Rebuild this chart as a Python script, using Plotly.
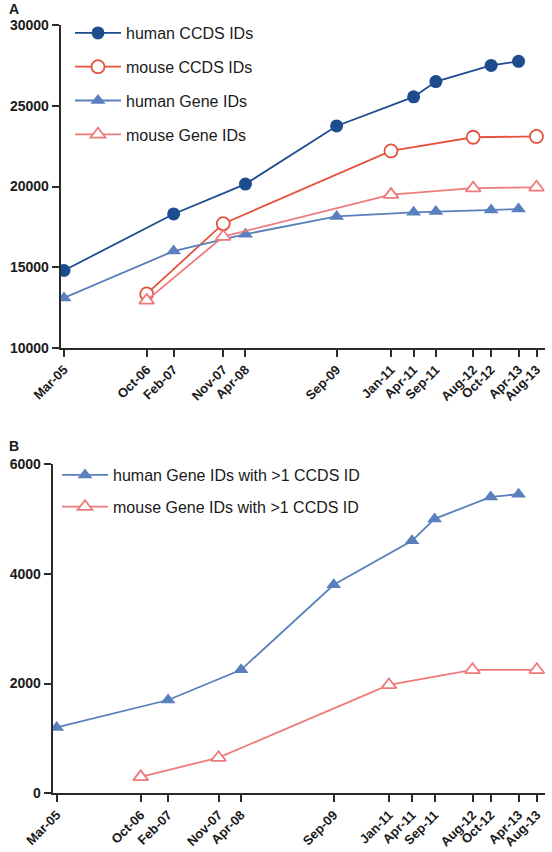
import plotly.graph_objects as go

W, H = 552, 852

# x tick labels and their positions on the (non-linear) time axis
tick_labels = ["Mar-05", "Oct-06", "Feb-07", "Nov-07", "Apr-08", "Sep-09", "Jan-11",
               "Apr-11", "Sep-11", "Aug-12", "Oct-12", "Apr-13", "Aug-13"]
tick_pos = [0, 17.5, 23.2, 33.7, 38.4, 57.7, 69.2, 74.0, 78.7, 86.6, 90.4, 96.2, 100]
pos = dict(zip(tick_labels, tick_pos))

# Panel A
human_dates = ["Mar-05", "Feb-07", "Apr-08", "Sep-09", "Apr-11", "Sep-11", "Oct-12", "Apr-13"]
mouse_dates = ["Oct-06", "Nov-07", "Jan-11", "Aug-12", "Aug-13"]
human_ccds = [14800, 18300, 20150, 23750, 25550, 26500, 27500, 27750]
mouse_ccds = [13350, 17700, 22200, 23050, 23100]
human_gene = [13100, 16000, 17050, 18150, 18400, 18450, 18550, 18600]
mouse_gene = [12950, 16900, 19500, 19900, 19950]

# Panel B
human_multi = [1200, 1700, 2250, 3800, 4600, 5000, 5400, 5450]
mouse_multi = [300, 650, 1975, 2250, 2250]

C_HCCDS = "#1d4c8f"
C_MCCDS = "#e5533d"
C_HGENE = "#5a7fbd"
C_MGENE = "#ee7b7b"

hx = [pos[d] for d in human_dates]
mx = [pos[d] for d in mouse_dates]

fig = go.Figure()

def add(x, y, name, color, symbol, filled, size, xa, ya, legend, group):
    fig.add_trace(go.Scatter(
        x=x, y=y, name=name, mode="lines+markers",
        line=dict(color=color, width=1.8),
        marker=dict(symbol=symbol, size=size,
                    color=color if filled else "white",
                    line=dict(color=color, width=0 if filled else 1.8)),
        xaxis=xa, yaxis=ya, legend=legend, legendgroup=group, showlegend=True,
    ))

add(hx, human_ccds, "human CCDS IDs", C_HCCDS, "circle", True, 13, "x", "y", "legend", "a1")
add(mx, mouse_ccds, "mouse CCDS IDs", C_MCCDS, "circle", False, 13, "x", "y", "legend", "a2")
add(hx, human_gene, "human Gene IDs", C_HGENE, "triangle-up", True, 13, "x", "y", "legend", "a3")
add(mx, mouse_gene, "mouse Gene IDs", C_MGENE, "triangle-up", False, 13, "x", "y", "legend", "a4")

add(hx, human_multi, "human Gene IDs with >1 CCDS ID", C_HGENE, "triangle-up", True, 13, "x2", "y2", "legend2", "b1")
add(mx, mouse_multi, "mouse Gene IDs with >1 CCDS ID", C_MGENE, "triangle-up", False, 13, "x2", "y2", "legend2", "b2")

axis_common = dict(showline=True, linecolor="#2b2b2b", linewidth=2, ticks="outside",
                   ticklen=7, tickwidth=2, tickcolor="#2b2b2b", showgrid=False, zeroline=False,
                   automargin=False,
                   tickfont=dict(family="Liberation Sans, Arial", size=14, color="#1a1a1a"))

xcommon = dict(axis_common, tickmode="array", tickvals=tick_pos, ticktext=[f"<b>{t}</b>" for t in tick_labels],
               tickangle=-45)
xcommon["tickfont"] = dict(family="Liberation Sans, Arial", size=13, color="#1a1a1a")

fig.update_layout(
    width=W, height=H,
    margin=dict(l=0, r=0, t=0, b=0, autoexpand=False),
    paper_bgcolor="white", plot_bgcolor="white",
    font=dict(family="Liberation Sans, Arial", color="#1a1a1a"),
    xaxis=dict(xcommon, domain=[60.7 / W, 545 / W], range=[-0.7, 101.8], anchor="y"),
    yaxis=dict(axis_common, domain=[(H - 348) / H, (H - 25) / H], range=[10000, 30000],
               tickvals=[10000, 15000, 20000, 25000, 30000],
               ticktext=["<b>10000</b>", "<b>15000</b>", "<b>20000</b>", "<b>25000</b>", "<b>30000</b>"],
               anchor="x"),
    xaxis2=dict(xcommon, domain=[52.7 / W, 545 / W], range=[-0.83, 101.7], anchor="y2"),
    yaxis2=dict(axis_common, domain=[(H - 793.3) / H, (H - 464) / H], range=[0, 6000],
                tickvals=[0, 2000, 4000, 6000],
                ticktext=["<b>0</b>", "<b>2000</b>", "<b>4000</b>", "<b>6000</b>"],
                anchor="x2"),
    legend=dict(x=70 / W, y=1 - 16 / H, xanchor="left", yanchor="top",
                font=dict(size=16, family="Liberation Sans, Arial", color="#1a1a1a"),
                bgcolor="rgba(0,0,0,0)", traceorder="grouped", tracegroupgap=10, itemwidth=46),
    legend2=dict(x=57 / W, y=1 - 458 / H, xanchor="left", yanchor="top",
                 font=dict(size=16, family="Liberation Sans, Arial", color="#1a1a1a"),
                 bgcolor="rgba(0,0,0,0)", traceorder="grouped", tracegroupgap=8, itemwidth=46),
    annotations=[
        dict(text="<b>A</b>", x=7 / W, y=1 - 9 / H, xref="paper", yref="paper",
             xanchor="left", yanchor="middle", showarrow=False, font=dict(size=14)),
        dict(text="<b>B</b>", x=7 / W, y=1 - 446 / H, xref="paper", yref="paper",
             xanchor="left", yanchor="middle", showarrow=False, font=dict(size=14)),
    ],
)

fig.write_html("out.html", config={"displayModeBar": False},
               post_script="document.body.style.margin='0';document.body.style.overflow='hidden';")
